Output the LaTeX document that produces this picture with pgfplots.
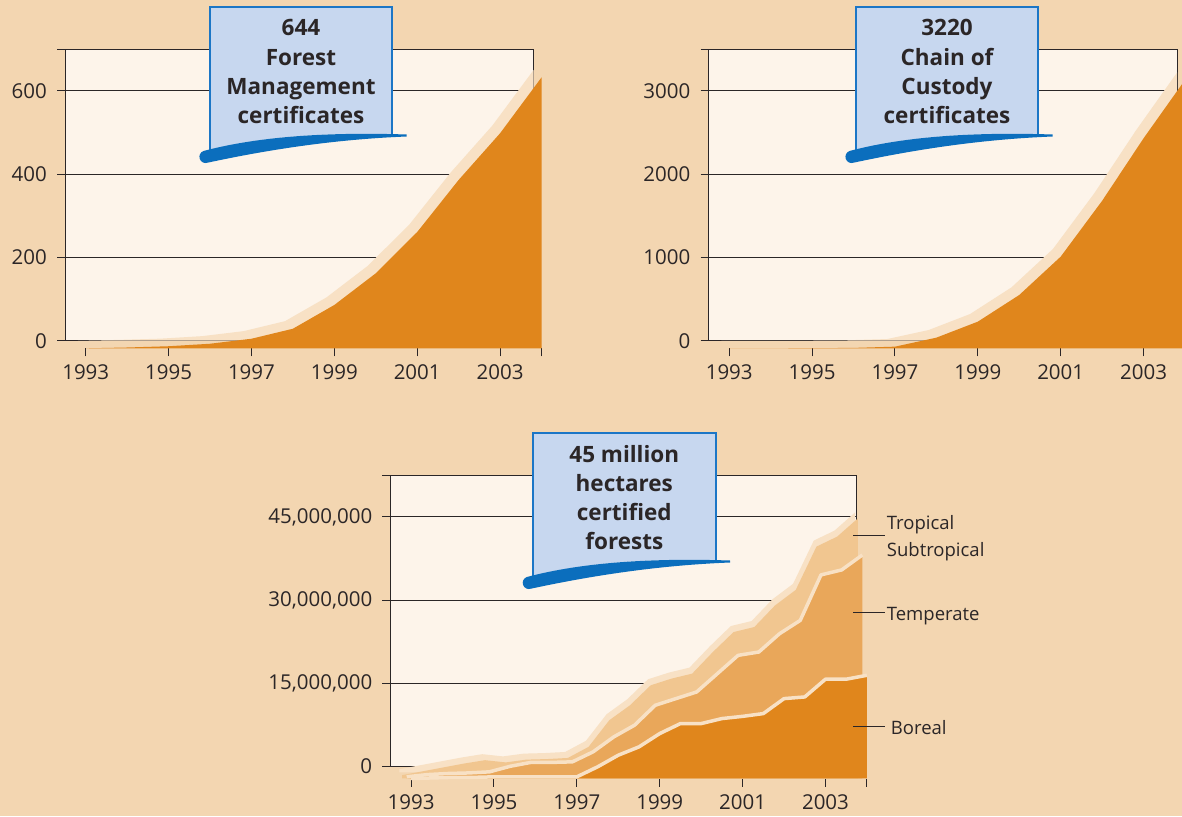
\documentclass[border=0pt]{standalone}
\usepackage{pgfplots}
\usepackage{pgfplotstable}
\pgfplotsset{compat=1.18}
\usepackage{fontspec}
\setmainfont{Open Sans}
\definecolor{bg}{HTML}{F3D6B1}
\definecolor{plotbg}{HTML}{FDF4EA}
\definecolor{dorange}{HTML}{E0861C}
\definecolor{morange}{HTML}{E9A75A}
\definecolor{lorange}{HTML}{F1C690}
\definecolor{band}{HTML}{F8E1C5}
\definecolor{boxfill}{HTML}{C7D7EF}
\definecolor{boxline}{HTML}{1C76C6}
\definecolor{swoosh}{HTML}{0B6EBD}
\definecolor{ink}{HTML}{2B2627}

\pgfplotstableread{
year fm coc
1993 0 0
1994 2 0
1995 5 2
1996 11 5
1997 23 20
1998 47 128
1999 104 320
2000 180 640
2001 279 1100
2002 404 1770
2003 516 2520
2004 650 3220
}\certtable

% hectares certified (millions), cumulative tops of the stacked layers
\pgfplotstableread{
year boreal bortemp total
1993 0.0 0.3 0.6
1993.5 0.1 0.7 1.3
1994 0.2 0.9 2.0
1994.5 0.2 1.0 2.7
1995 0.3 1.2 3.3
1995.5 0.3 2.2 2.9
1996 0.3 2.9 3.4
1996.5 0.3 2.9 3.5
1997 0.3 3.0 3.7
1997.5 2.1 4.8 5.7
1998 4.2 7.5 10.5
1998.5 5.7 9.6 13.2
1999 8.1 13.2 16.8
1999.5 9.9 14.4 18.0
2000 9.9 15.6 18.9
2000.5 10.8 18.9 22.8
2001 11.2 22.2 26.4
2001.5 11.7 22.8 27.3
2002 14.4 26.1 31.2
2002.5 14.7 28.5 34.0
2003 17.9 36.7 41.8
2003.5 17.9 37.6 43.6
2004 18.6 40.3 46.9
}\foresttable

\tikzset{gridl/.style={draw=ink, line width=1pt}}
\pgfplotsset{
  chart/.style={
    scale only axis, clip=false,
    axis x line*=bottom, axis y line*=left,
    axis line style={draw=none},
    tick align=outside,
    major tick length=8pt,
    tick style={draw=ink, line width=1pt},
    xmin=1992.5, xmax=2004,
    xtick={1993,1995,1997,1999,2001,2003,2004},
    xticklabels={1993,1995,1997,1999,2001,2003,{}},
    xticklabel style={font=\fontsize{20.5}{24}\selectfont, text=ink, anchor=north, inner sep=0pt, yshift=-8pt},
    yticklabel style={font=\fontsize{20.5}{24}\selectfont, text=ink, anchor=east, inner sep=0pt, xshift=-10pt},
    width=476.5pt,
    anchor=south west,
  },
}

\newcommand{\callout}[6]{%
\begin{scope}[shift={(#1pt,#2pt)}]
 \begin{scope}
  \clip (406.7pt,-134.5pt) .. controls (330pt,-132pt) and (260pt,-136pt) .. (204pt,-151.5pt) -- (204pt,0pt) -- (406.7pt,0pt) -- cycle;
  \fill[boxfill] (210pt,-6.7pt) rectangle (392.3pt,-165pt);
  \draw[boxline, line width=2pt] (210pt,-165pt) -- (210pt,-6.7pt) -- (392.3pt,-6.7pt) -- (392.3pt,-165pt);
 \end{scope}
 \fill[swoosh] (406.7pt,-134.5pt) .. controls (330pt,-132pt) and (260pt,-136pt) .. (203.5pt,-151pt)
   arc[start angle=110, end angle=290, radius=6.2pt]
   .. controls (262pt,-151pt) and (330pt,-139.5pt) .. (406.7pt,-136.5pt) -- cycle;
 \begin{scope}[every node/.style={font=\bfseries\fontsize{22.5}{26}\selectfont, text=ink, anchor=base, inner sep=0pt}]
  \node at (301pt,-36pt) {#3};
  \node at (301pt,-65pt) {#4};
  \node at (301pt,-94.5pt) {#5};
  \node at (301pt,-123pt) {#6};
 \end{scope}
\end{scope}}

\begin{document}
\begin{tikzpicture}
\useasboundingbox (0pt,0pt) rectangle (1182pt,-816pt);
\clip (0pt,0pt) rectangle (1182pt,-816pt);
\fill[bg] (0pt,0pt) rectangle (1182pt,-816pt);

% ---------- Chart 1: Forest Management certificates
\begin{axis}[chart, at={(65pt,-348.3pt)}, height=299.3pt,
  ymin=-18.2, ymax=700, ytick={0,200,400,600,700}, yticklabels={0,200,400,600,{}}]
  \fill[plotbg] (axis cs:1992.5,0) rectangle (axis cs:2003.80,700);
  \pgfplotsinvokeforeach{0,200,400,600,700}{\draw[gridl] (axis cs:1992.5,#1) -- (axis cs:2003.80,#1);}
  \draw[gridl] (axis cs:1992.5,0) -- (axis cs:1992.5,700);
  \draw[gridl] (axis cs:2003.80,0) -- (axis cs:2003.80,700);
  \addplot[fill=band, draw=none, xshift=-7.8pt] table[x=year,y=fm]{\certtable} \closedcycle;
  \addplot[fill=dorange, draw=none, yshift=-7.6pt] table[x=year,y=fm]{\certtable} \closedcycle;
\end{axis}

% ---------- Chart 2: Chain of Custody certificates
\begin{axis}[chart, at={(708.5pt,-348.3pt)}, height=299.3pt,
  ymin=-91, ymax=3500, ytick={0,1000,2000,3000,3500}, yticklabels={0,1000,2000,3000,{}}]
  \fill[plotbg] (axis cs:1992.5,0) rectangle (axis cs:2003.83,3500);
  \pgfplotsinvokeforeach{0,1000,2000,3000,3500}{\draw[gridl] (axis cs:1992.5,#1) -- (axis cs:2003.83,#1);}
  \draw[gridl] (axis cs:1992.5,0) -- (axis cs:1992.5,3500);
  \draw[gridl] (axis cs:2003.83,0) -- (axis cs:2003.83,3500);
  \addplot[fill=band, draw=none, xshift=-7.8pt] table[x=year,y=coc]{\certtable} \closedcycle;
  \addplot[fill=dorange, draw=none, yshift=-7.6pt] table[x=year,y=coc]{\certtable} \closedcycle;
\end{axis}

% ---------- Chart 3: certified forests (million hectares)
\begin{axis}[chart, at={(390.4pt,-778.5pt)}, height=302.6pt,
  ymin=-2.15, ymax=52.4, ytick={0,15,30,45,52.4},
  yticklabels={0,{15,000,000},{30,000,000},{45,000,000},{}}]
  \fill[plotbg] (axis cs:1992.5,0) rectangle (axis cs:2003.75,52.4);
  \pgfplotsinvokeforeach{0,15,30,45,52.4}{\draw[gridl] (axis cs:1992.5,#1) -- (axis cs:2003.75,#1);}
  \draw[gridl] (axis cs:1992.5,0) -- (axis cs:1992.5,52.4);
  \draw[gridl] (axis cs:2003.75,0) -- (axis cs:2003.75,52.4);
  \addplot[fill=band, draw=none, xshift=-11.7pt, yshift=-5.9pt] table[x=year,y=total]{\foresttable} \closedcycle;
  \addplot[fill=lorange, draw=none, xshift=-9pt, yshift=-11.9pt] table[x=year,y=total]{\foresttable} \closedcycle;
  \addplot[fill=morange, draw=none, xshift=-4.5pt, yshift=-11.9pt] table[x=year,y=bortemp]{\foresttable} \closedcycle;
  \addplot[draw=band, line width=3.5pt, line join=round, xshift=-4.5pt, yshift=-11.9pt] table[x=year,y=bortemp]{\foresttable};
  \addplot[fill=dorange, draw=none, yshift=-11.9pt] table[x=year,y=boreal]{\foresttable} \closedcycle;
  \addplot[draw=band, line width=3.5pt, line join=round, yshift=-11.9pt] table[x=year,y=boreal]{\foresttable};
\end{axis}

% ---------- Series labels
\draw[ink, line width=1pt] (853.3pt,-535.7pt) -- (885pt,-535.7pt);
\draw[ink, line width=1pt] (853.3pt,-612.7pt) -- (885pt,-612.7pt);
\draw[ink, line width=1pt] (853.3pt,-726.7pt) -- (885pt,-726.7pt);
\begin{scope}[every node/.style={font=\fontsize{18.5}{22}\selectfont, text=ink, anchor=base west, inner sep=0pt}]
 \node at (886.7pt,-529.5pt) {Tropical};
 \node at (886.7pt,-556.7pt) {Subtropical};
 \node at (886.7pt,-620pt) {Temperate};
 \node at (890.7pt,-734.3pt) {Boreal};
\end{scope}

% ---------- Callouts
\callout{0}{0}{644}{Forest}{Management}{certificates}
\callout{646}{0}{3220}{Chain of}{Custody}{certificates}
\callout{323.3}{-426}{45 million}{hectares}{certified}{forests}
\end{tikzpicture}
\end{document}
